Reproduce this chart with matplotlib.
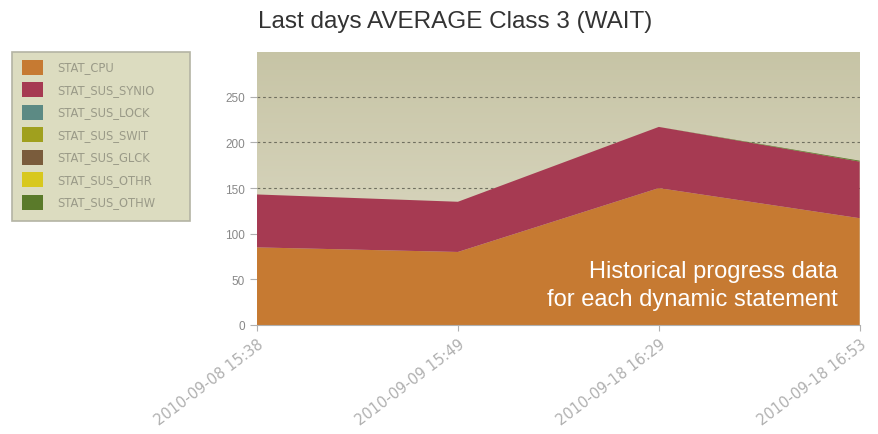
import numpy as np
import matplotlib
matplotlib.use("Agg")
import matplotlib.pyplot as plt
from matplotlib.patches import Rectangle

# ---- data ----
dates = ["2010-09-08 15:38", "2010-09-09 15:49", "2010-09-18 16:29", "2010-09-18 16:53"]
series_names = ["STAT_CPU", "STAT_SUS_SYNIO", "STAT_SUS_LOCK", "STAT_SUS_SWIT",
                "STAT_SUS_GLCK", "STAT_SUS_OTHR", "STAT_SUS_OTHW"]
stat_cpu = [85, 80, 150, 117]
stat_sus_synio = [58, 55, 67, 62]
stat_sus_lock = [0, 0, 0, 0]
stat_sus_swit = [0, 0, 0, 0]
stat_sus_glck = [0, 0, 0, 0]
stat_sus_othr = [0, 0, 0, 0]
stat_sus_othw = [0, 0, 0, 1]

colors = ["#c67a32", "#a63a52", "#5c8a84", "#a0a01e", "#7a5c3c", "#d8c81e", "#5a7a2a"]

plt.rcParams["font.family"] = ["Liberation Sans", "DejaVu Sans"]

W, H = 879, 435
fig = plt.figure(figsize=(W / 100, H / 100), dpi=100)
fig.patch.set_facecolor("white")
ax = fig.add_axes([0.2924, 0.2506, 0.6856, 0.6274])

x = np.arange(len(dates))
ymax = 299

# gradient background of the plot area (darker at the top)
grad = np.linspace(0, 1, 256).reshape(-1, 1)
top = np.array([0.78, 0.77, 0.65])
bot = np.array([0.88, 0.87, 0.79])
img = top[None, None, :] * (1 - grad[:, :, None]) + bot[None, None, :] * grad[:, :, None]
ax.imshow(img, extent=[0, len(dates) - 1, 0, ymax], origin="upper", aspect="auto", zorder=0)

ax.stackplot(x, stat_cpu, stat_sus_synio, stat_sus_lock, stat_sus_swit,
             stat_sus_glck, stat_sus_othr, stat_sus_othw,
             colors=colors, zorder=2, linewidth=0)

for yv in [150, 200, 250]:
    ax.axhline(yv, color="#707060", linestyle=(0, (2.5, 2.5)), linewidth=0.8, zorder=1)

ax.set_xlim(0, len(dates) - 1)
ax.set_ylim(0, ymax)
ax.set_yticks([0, 50, 100, 150, 200, 250])
ax.set_xticks(x)
ax.set_xticklabels(dates, rotation=37, ha="right", rotation_mode="anchor",
                   family="DejaVu Sans", fontsize=10.5, color="#a8a8a8")
ax.tick_params(axis="y", colors="#b0b0b0", labelcolor="#888888", labelsize=8.5,
               length=5, width=0.8)
ax.tick_params(axis="x", colors="#b0b0b0", length=4, width=0.8, pad=4)
for s in ax.spines.values():
    s.set_visible(False)
ax.spines["bottom"].set_visible(True)
ax.spines["bottom"].set_color("#b0b0b0")

ax.text(0.963, 0.148, "Historical progress data\nfor each dynamic statement",
        transform=ax.transAxes, ha="right", va="center", color="white",
        fontsize=17, linespacing=1.35, zorder=5)

fig.text(0.518, 0.949, "Last days AVERAGE Class 3 (WAIT)", ha="center", va="center",
         fontsize=17.5, color="#333333")


# legend box drawn in figure pixel coordinates
def fx(px):
    return px / W


def fy(py):
    return 1 - py / H


fig.patches.append(Rectangle((fx(12), fy(222)), fx(190) - fx(12), fy(53) - fy(222),
                             transform=fig.transFigure, facecolor="#dcdcc0",
                             edgecolor="#b4b4a4", linewidth=1.2, zorder=1))
for i, (name, c) in enumerate(zip(series_names, colors)):
    cy = 68 + 22.5 * i
    fig.patches.append(Rectangle((fx(22), fy(cy + 7.5)), fx(43) - fx(22), fy(cy - 7.5) - fy(cy + 7.5),
                                 transform=fig.transFigure, facecolor=c, edgecolor="none",
                                 zorder=2))
    fig.text(fx(57), fy(cy), name, ha="left", va="center", fontsize=8.3,
             family="DejaVu Sans", color="#9a9a88", zorder=3)

fig.savefig("out.png", dpi=100)
